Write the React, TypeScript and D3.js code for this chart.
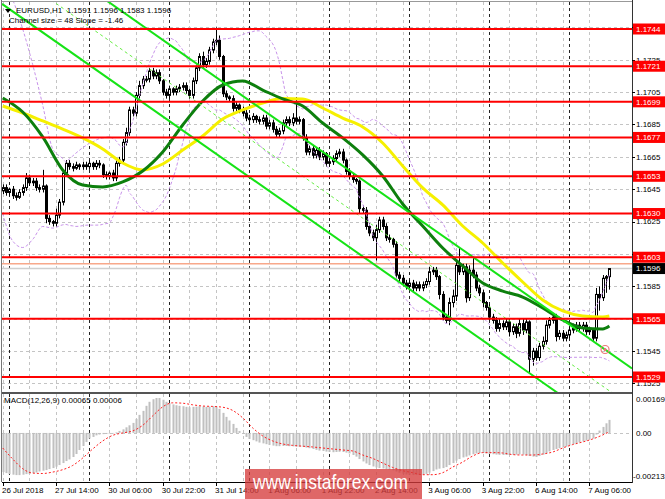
import React from "react";
import * as d3 from "d3";

// ---------- DATA ----------
const firstOpen = 1.1644;
const closes = [
1.1646,1.1643,1.1645,1.1641,1.1640,1.1643,1.1646,1.1652,1.1649,1.1650,
1.1646,1.1645,1.1647,1.1627,1.1625,1.1624,1.1629,1.1637,1.1655,1.1661,
1.1659,1.1658,1.1660,1.1659,1.1660,1.1659,1.1661,1.1659,1.1661,1.1660,
1.1654,1.1653,1.1655,1.1652,1.1661,1.1663,1.1674,1.1680,1.1694,1.1692,
1.1703,1.1709,1.1713,1.1713,1.1718,1.1715,1.1717,1.1712,1.1705,1.1703,
1.1707,1.1705,1.1707,1.1708,1.1709,1.1706,1.1703,1.1712,1.1720,1.1727,
1.1722,1.1724,1.1731,1.1736,1.1737,1.1727,1.1704,1.1702,1.1701,1.1695,
1.1697,1.1694,1.1692,1.1689,1.1688,1.1690,1.1688,1.1687,1.1689,1.1684,
1.1686,1.1682,1.1679,1.1681,1.1686,1.1688,1.1686,1.1689,1.1687,1.1688,
1.1677,1.1668,1.1670,1.1666,1.1669,1.1665,1.1667,1.1661,1.1662,1.1664,
1.1667,1.1668,1.1663,1.1656,1.1653,1.1651,1.1650,1.1633,1.1632,1.1622,
1.1618,1.1615,1.1620,1.1626,1.1622,1.1615,1.1614,1.1611,1.1592,1.1590,
1.1587,1.1585,1.1587,1.1584,1.1586,1.1584,1.1586,1.1588,1.1594,1.1595,
1.1591,1.1580,1.1566,1.1564,1.1575,1.1579,1.1598,1.1594,1.1597,1.1578,
1.1595,1.1592,1.1584,1.1581,1.1575,1.1572,1.1566,1.1564,1.1559,1.1562,
1.1560,1.1563,1.1557,1.1560,1.1556,1.1562,1.1558,1.1563,1.1540,1.1545,
1.1541,1.1548,1.1551,1.1561,1.1564,1.1566,1.1554,1.1556,1.1553,1.1555,
1.1558,1.1559,1.1561,1.1559,1.1561,1.1557,1.1558,1.1553,1.1580,1.1578,
1.1590,1.1591,1.1596];
const upperWickPips = [
2,2,1,2,2,2,2,3,2,2,
2,2,10,1,2,1,4,2,2,2,
2,2,2,1,2,2,2,1,2,2,
1,2,1,2,2,2,2,3,2,2,
2,3,2,2,2,2,2,2,1,2,
2,1,2,2,2,2,1,2,2,2,
3,2,2,2,8,3,1,2,1,2,
2,1,2,2,2,2,1,2,2,2,
2,2,2,2,2,2,2,3,13,2,
1,2,2,2,2,2,2,1,2,2,
2,2,2,1,2,2,1,1,2,2,
2,2,3,2,2,2,2,1,2,2,
2,2,2,2,2,2,2,2,3,2,
2,1,2,2,3,4,3,11,2,2,
3,8,2,2,2,1,2,2,2,3,
2,2,2,2,2,3,3,2,1,2,
2,2,3,3,2,2,2,2,2,2,
2,3,2,2,2,2,2,1,4,5,
2,1,0];
const lowerWickPips = [
2,2,2,2,2,1,2,2,2,2,
2,2,2,3,2,2,2,2,2,2,
2,2,1,2,2,2,2,2,2,2,
2,2,2,2,2,2,2,2,2,2,
2,2,2,2,2,2,2,2,2,2,
2,2,2,2,2,2,2,2,2,2,
2,2,2,2,2,2,2,2,2,2,
2,2,2,2,3,2,2,2,2,2,
2,2,2,2,2,2,2,2,2,2,
2,2,2,2,2,2,2,2,2,2,
2,2,2,2,2,2,2,3,2,2,
2,2,14,2,2,2,2,2,2,2,
2,2,2,2,2,2,2,2,2,2,
2,3,2,2,3,3,3,2,2,3,
2,2,2,2,3,2,2,2,2,2,
2,2,3,2,3,2,3,2,9,4,
2,2,2,2,2,2,3,2,2,2,
2,2,2,2,2,2,2,2,2,8,
2,9,8];

const maIdx = [...d3.range(0, 181, 6), 182];
const maGreen = [1.17014,1.16927,1.16773,1.16569,1.16476,1.16464,1.16495,1.16563,1.16680,1.16847,1.16995,1.17094,1.17119,1.17063,1.17008,1.16964,1.16859,1.16767,1.16662,1.16532,1.16359,1.16223,1.16087,1.15976,1.15871,1.15821,1.15784,1.15716,1.15642,1.15593,1.15587,1.15605];
const maYellow = [1.16964,1.16921,1.16872,1.16822,1.16767,1.16699,1.16612,1.16569,1.16606,1.16692,1.16779,1.16884,1.16940,1.16983,1.17011,1.17008,1.16952,1.16890,1.16835,1.16736,1.16594,1.16458,1.16353,1.16223,1.16118,1.15994,1.15877,1.15766,1.15698,1.15667,1.15661,1.15667];

const bbHeadIdx = [0, 3, 6, 9, 12, 15, 18];
const bbHeadUpper = [1.1772, 1.1762, 1.1744, 1.1722, 1.1697, 1.1670, 1.1664];
const bbHeadLower = [1.1630, 1.1613, 1.1609, 1.1614, 1.1622, 1.1621, 1.1623];
const bbPeriod = 20;
const bbDev = 2;

// channel (linear regression) read at first and last bar
const chanIdx = [0, 182];
const chanUpper = [1.18065, 1.15441];
const chanSize = 0.00473;

// MACD main values (x 1e-5)
const macdMain = [
-195,-200,-205,-208,-210,-210,-208,-205,-203,-200,
-197,-192,-188,-185,-180,-175,-168,-160,-150,-140,
-132,-120,-105,-85,-65,-45,-28,-20,-12,-8,
-6,-5,-3,-2,3,10,18,28,38,50,
70,90,110,135,155,168,174,174,165,155,
148,142,138,135,133,130,128,130,131,133,
132,130,131,133,132,120,100,80,62,45,
25,10,-5,-20,-30,-36,-42,-48,-52,-56,
-60,-63,-66,-66,-65,-65,-66,-67,-68,-69,
-70,-73,-76,-80,-84,-88,-90,-93,-95,-96,
-95,-94,-95,-98,-102,-110,-118,-130,-142,-152,
-160,-167,-172,-175,-177,-180,-183,-186,-192,-198,
-203,-207,-209,-210,-210,-209,-207,-204,-198,-190,
-182,-178,-175,-170,-160,-150,-138,-130,-122,-118,
-112,-106,-102,-100,-100,-102,-104,-106,-108,-109,
-110,-110,-110,-109,-108,-107,-108,-110,-115,-118,
-120,-115,-108,-100,-92,-85,-80,-76,-72,-68,
-62,-56,-52,-47,-42,-38,-34,-28,-8,12,
30,48,65];
const sigIdx = [...d3.range(0, 181, 3), 182];
const macdSignal = [
-75,-130,-178,-200,-202,-195,-183,-162,-125,-80,
-40,-12,0,10,38,85,130,150,148,140,
134,132,128,112,75,25,-15,-40,-55,-62,
-66,-70,-75,-80,-85,-90,-110,-127,-150,-172,
-188,-198,-208,-208,-198,-170,-145,-115,-98,-98,
-100,-108,-110,-110,-105,-95,-75,-58,-45,-30,
-10,6];

const levels = [1.1744, 1.1721, 1.1699, 1.1677, 1.1653, 1.1630, 1.1603, 1.1565, 1.1529];
const priceTicks = [1.1525,1.1545,1.1565,1.1585,1.1605,1.1625,1.1645,1.1665,1.1685,1.1705,1.1725,1.1745];
const bid = 1.1596;
const ask = 1.1599;
const macdAxis = [0.00169, 0, -0.00213];
const macdAxisText = ["0.00169", "0.00", "-0.00213"];
const dateLabelIdx = [0,16,32,48,64,80,96,112,128,144,160,176];
const dateLabels = ["26 Jul 2018","27 Jul 14:00","30 Jul 06:00","30 Jul 22:00","31 Jul 14:00","1 Aug 06:00","1 Aug 22:00","2 Aug 14:00","3 Aug 06:00","3 Aug 22:00","6 Aug 14:00","7 Aug 06:00"];
const gridIdx = d3.range(0, 183, 8);
const daySepIdx = [2, 26, 50, 74, 98, 122, 146, 170];
const alertPoint = { i: 180.7, p: 1.1546 };

const FONT = "'Liberation Sans', Arial, sans-serif";

export default function App() {
  const L = 2, R = 632, MT = 2, MB = 392, ST = 394, SB = 482;
  const xs = d3.scaleLinear().domain([0, 182]).range([2.7, 609.37]);
  const yP = d3.scaleLinear().domain([1.1529, 1.1744]).range([377, 29]);
  const yM = d3.scaleLinear().domain([-0.00213, 0.00169]).range([475.7, 399]);

  const candles = closes.map((c, i) => {
    const o = i === 0 ? firstOpen : closes[i - 1];
    const hi = Math.max(o, c) + upperWickPips[i] / 10000;
    const lo = Math.min(o, c) - lowerWickPips[i] / 10000;
    return { i, o, c, hi, lo };
  });

  const upPts: [number, number][] = bbHeadIdx.map((i, k) => [i, bbHeadUpper[k]]);
  const loPts: [number, number][] = bbHeadIdx.map((i, k) => [i, bbHeadLower[k]]);
  for (let i = bbPeriod - 1; i < closes.length; i++) {
    const w = closes.slice(i - bbPeriod + 1, i + 1);
    const m = d3.mean(w) as number;
    const sd = Math.sqrt(d3.mean(w.map((v) => (v - m) ** 2)) as number);
    upPts.push([i, m + bbDev * sd]);
    loPts.push([i, m - bbDev * sd]);
  }

  const lineP = d3.line<[number, number]>().x((d) => xs(d[0])).y((d) => yP(d[1])).curve(d3.curveMonotoneX);
  const lineM = d3.line<[number, number]>().x((d) => xs(d[0])).y((d) => yM(d[1] / 100000)).curve(d3.curveMonotoneX);

  const greenPts: [number, number][] = maIdx.map((i, k) => [i, maGreen[k]]);
  const yellowPts: [number, number][] = maIdx.map((i, k) => [i, maYellow[k]]);
  const sigPts: [number, number][] = sigIdx.map((i, k) => [i, macdSignal[k]]);

  // channel extended across the chart
  const slope = (chanUpper[1] - chanUpper[0]) / (chanIdx[1] - chanIdx[0]);
  const iL = xs.invert(L), iR = xs.invert(R);
  const chanAt = (i: number, off: number) => chanUpper[0] + slope * (i - chanIdx[0]) - off;
  const chanLine = (off: number) => ({ x1: L, y1: yP(chanAt(iL, off)), x2: R, y2: yP(chanAt(iR, off)) });
  const cu = chanLine(0), cm = chanLine(chanSize / 2), cl = chanLine(chanSize);

  const crisp = (v: number) => Math.round(v) + 0.5;

  return (
    <svg width={665} height={499} style={{ position: "absolute", left: 0, top: 0, background: "#fff" }} fontFamily={FONT}>
      <defs>
        <clipPath id="mainClip"><rect x={L} y={MT} width={R - L} height={MB - MT} /></clipPath>
        <clipPath id="subClip"><rect x={L} y={ST} width={R - L} height={SB - ST} /></clipPath>
      </defs>
      <rect x={0} y={0} width={665} height={499} fill="#fff" />

      {/* main panel */}
      <g clipPath="url(#mainClip)">
        {priceTicks.map((p) => (
          <line key={"hg" + p} x1={L} x2={R} y1={crisp(yP(p))} y2={crisp(yP(p))} stroke="#c4c4c4" strokeDasharray="3,3" />
        ))}
        {gridIdx.map((i) => (
          <line key={"vg" + i} x1={crisp(xs(i))} x2={crisp(xs(i))} y1={MT} y2={MB} stroke="#c4c4c4" strokeDasharray="3,3" />
        ))}
        {daySepIdx.map((i) => (
          <line key={"ds" + i} x1={crisp(xs(i))} x2={crisp(xs(i))} y1={MT} y2={MB} stroke="#222" strokeDasharray="3,3" />
        ))}
        <line x1={L} x2={R} y1={yP(bid)} y2={yP(bid)} stroke="#cfcfcf" strokeWidth={1.5} />
        <line x1={L} x2={R} y1={yP(ask)} y2={yP(ask)} stroke="#f8a88a" strokeWidth={1.5} />

        {candles.map((d) => {
          const xc = Math.round(xs(d.i));
          const yo = yP(d.o), yc = yP(d.c);
          const top = Math.min(yo, yc), h = Math.max(1, Math.abs(yo - yc));
          const bull = d.c > d.o;
          return (
            <g key={"c" + d.i}>
              <line x1={xc + 0.5} x2={xc + 0.5} y1={yP(d.hi)} y2={yP(d.lo)} stroke="#000" strokeWidth={1} />
              <rect x={xc - 0.5} y={top} width={2} height={h} fill={bull ? "#fff" : "#000"} stroke="#000" strokeWidth={1} />
            </g>
          );
        })}

        <path d={lineP(upPts) as string} fill="none" stroke="#c893ea" strokeWidth={1} strokeDasharray="3,2" />
        <path d={lineP(loPts) as string} fill="none" stroke="#c893ea" strokeWidth={1} strokeDasharray="3,2" />
        <path d={lineP(yellowPts) as string} fill="none" stroke="#f6f000" strokeWidth={3} />
        <path d={lineP(greenPts) as string} fill="none" stroke="#0d7f0d" strokeWidth={3} />

        <line {...cu} stroke="#16e316" strokeWidth={2} />
        <line {...cl} stroke="#16e316" strokeWidth={2} />
        <line {...cm} stroke="#66ee44" strokeWidth={1} strokeDasharray="3,3" />

        {levels.map((p) => (
          <line key={"lv" + p} x1={L} x2={R} y1={yP(p)} y2={yP(p)} stroke="#ff0000" strokeWidth={2} />
        ))}

        <circle cx={xs(alertPoint.i)} cy={yP(alertPoint.p)} r={4} fill="none" stroke="#ee7777" strokeWidth={1.2} />
        <circle cx={xs(alertPoint.i)} cy={yP(alertPoint.p)} r={1.5} fill="#ee7777" />
      </g>

      {/* title texts */}
      <path d="M5,9 L11,9 L8,13 Z" fill="#000" />
      <text x={16} y={13} fontSize={8} fill="#000" style={{ whiteSpace: "pre" }}>{"EURUSD,H1  1.1591 1.1596 1.1583 1.1596"}</text>
      <text x={9} y={23} fontSize={8} fill="#000">Channel size = 48 Slope = -1.46</text>

      {/* MACD panel */}
      <g clipPath="url(#subClip)">
        {gridIdx.map((i) => (
          <line key={"svg" + i} x1={crisp(xs(i))} x2={crisp(xs(i))} y1={ST} y2={SB} stroke="#c4c4c4" strokeDasharray="3,3" />
        ))}
        {daySepIdx.map((i) => (
          <line key={"sds" + i} x1={crisp(xs(i))} x2={crisp(xs(i))} y1={ST} y2={SB} stroke="#222" strokeDasharray="3,3" />
        ))}
        <line x1={L} x2={R} y1={crisp(yM(0))} y2={crisp(yM(0))} stroke="#c4c4c4" strokeDasharray="3,3" />
        {macdMain.map((v, i) => {
          const y0 = yM(0), y1 = yM(v / 100000);
          return <rect key={"m" + i} x={Math.round(xs(i)) - 0.5} y={Math.min(y0, y1)} width={2} height={Math.max(0.5, Math.abs(y1 - y0))} fill="#c0c0c0" />;
        })}
        <path d={lineM(sigPts) as string} fill="none" stroke="#ff2020" strokeWidth={1} strokeDasharray="2,2" />
      </g>
      <text x={4} y={403} fontSize={8} fill="#000">MACD(12,26,9) 0.00065 0.00006</text>

      {/* frames */}
      <line x1={1.5} x2={1.5} y1={0} y2={SB} stroke="#777" />
      <line x1={L} x2={R} y1={1.5} y2={1.5} stroke="#999" />
      <line x1={L} x2={R} y1={393} y2={393} stroke="#555" strokeWidth={2} />
      <line x1={L} x2={R} y1={SB + 0.5} y2={SB + 0.5} stroke="#000" />
      <line x1={R + 0.5} x2={R + 0.5} y1={0} y2={SB + 1} stroke="#333" />

      {/* price axis */}
      {priceTicks.map((p) => (
        <g key={"pt" + p}>
          <line x1={R} x2={R + 3} y1={crisp(yP(p))} y2={crisp(yP(p))} stroke="#000" />
          <text x={636} y={yP(p)} dy="0.35em" fontSize={8} fill="#000">{p.toFixed(4)}</text>
        </g>
      ))}
      {levels.map((p) => (
        <g key={"lb" + p}>
          <rect x={633} y={yP(p) - 5.5} width={32} height={11} fill="#ff0000" />
          <text x={636} y={yP(p)} dy="0.35em" fontSize={8} fill="#fff">{p.toFixed(4)}</text>
        </g>
      ))}
      <rect x={633} y={yP(bid) - 5.5} width={32} height={11} fill="#000" />
      <text x={636} y={yP(bid)} dy="0.35em" fontSize={8} fill="#fff">{bid.toFixed(4)}</text>

      {/* macd axis */}
      {macdAxis.map((v, k) => (
        <text key={"ma" + k} x={v < 0 ? 633 : 636} y={yM(v)} dy="0.35em" fontSize={8} fill="#000">{macdAxisText[k]}</text>
      ))}

      {/* date axis */}
      {dateLabelIdx.map((i, k) => (
        <g key={"dl" + i}>
          <line x1={crisp(xs(i))} x2={crisp(xs(i))} y1={SB} y2={SB + 4} stroke="#000" />
          <text x={k === 0 ? 2 : xs(i) - 1} y={492.5} fontSize={8} fill="#000">{dateLabels[k]}</text>
        </g>
      ))}

      {/* watermark */}
      <rect x={245} y={469} width={177} height={30} fill="#d63c3c" opacity={0.78} />
      <text x={253} y={489} fontSize={21} fill="#fff" textLength={155} lengthAdjust="spacingAndGlyphs">www.instaforex.com</text>
    </svg>
  );
}
